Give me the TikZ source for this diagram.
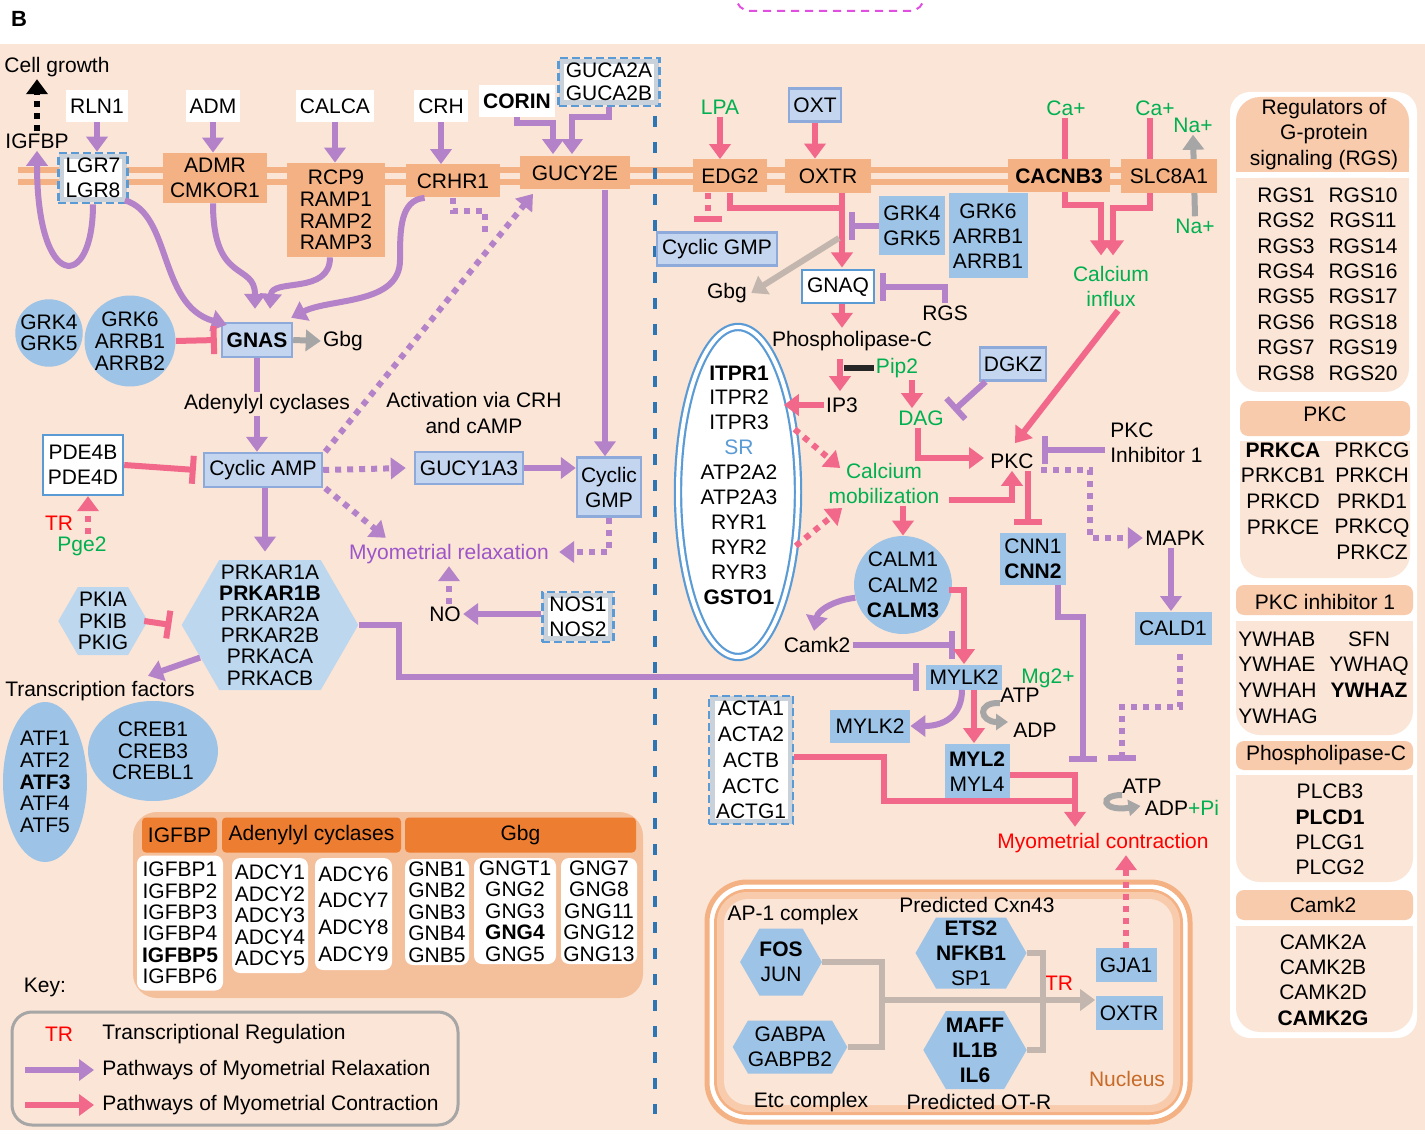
\documentclass[tikz,border=0pt]{standalone}
\usepackage{fontspec}
\setmainfont{Liberation Sans}
\usepackage{tikz}
\usetikzlibrary{fit, arrows.meta, shapes, positioning, calc}

\definecolor{bgpeach}{HTML}{FBE5D6}
\definecolor{orbox}{HTML}{F4B183}
\definecolor{orhead}{HTML}{ED7D31}
\definecolor{orlight}{HTML}{F8CBAD}
\definecolor{orlegend}{HTML}{F4BF9B}
\definecolor{bluefill}{HTML}{9DC3E6}
\definecolor{hexblue}{HTML}{BDD7EE}
\definecolor{glowfill}{HTML}{C3D5EF}
\definecolor{glowedge}{HTML}{8EAADB}
\definecolor{dashblue}{HTML}{5B9BD5}
\definecolor{lineblue}{HTML}{2E75B6}
\definecolor{framegray}{HTML}{C9D1DB}
\definecolor{purp}{HTML}{B482C8}
\definecolor{pinkc}{HTML}{F2688A}
\definecolor{grn}{HTML}{00B050}
\definecolor{redt}{HTML}{FF0000}
\definecolor{relaxtxt}{HTML}{9C56C9}
\definecolor{grayarr}{HTML}{A6A6A6}
\definecolor{graycon}{HTML}{C2B6AE}
\definecolor{nucor}{HTML}{C86A28}
\definecolor{magd}{HTML}{E04FE0}
\definecolor{keygray}{HTML}{A6A6A6}
\definecolor{darkbar}{HTML}{262626}

\newcommand{\genefont}{\fontsize{10.5}{12.5}\selectfont}
\newcommand{\tightfont}{\fontsize{10.5}{10.7}\selectfont}

\tikzset{
  lbl/.style={font=\genefont, align=center, inner sep=1pt},
  orb/.style={lbl, fill=orbox, inner xsep=3pt, inner ysep=1pt},
  blu/.style={lbl, fill=bluefill, inner xsep=2pt, inner ysep=1pt},
  glow/.style={lbl, fill=glowfill, draw=glowedge, line width=1.2pt, inner xsep=2pt, inner ysep=1pt},
  wht/.style={lbl, fill=white, inner xsep=2pt, inner ysep=2pt, minimum height=16pt},
  frm/.style={lbl, fill=white, draw=framegray, line width=2.5pt, inner xsep=2pt, inner ysep=1pt},
  dashfrm/.style={draw=dashblue, line width=1.3pt, dash pattern=on 4pt off 2pt, inner sep=0.3pt},
  hexa/.style={lbl, shape=signal, signal to=west and east, signal pointer angle=120, fill=bluefill, inner sep=0pt},
  genecell/.style={lbl, fill=white, rounded corners=4pt, font=\tightfont},
  hdcell/.style={lbl, fill=orhead, rounded corners=2pt, minimum height=17.5pt},
  relaxl/.style={draw=purp, line width=3pt},
  contrl/.style={draw=pinkc, line width=3pt},
  greyl/.style={draw=grayarr, line width=3pt},
  gcon/.style={draw=graycon, line width=3pt},
  arrowhd/.style={-{Triangle[length=7.5pt,width=10.5pt]}},
  inh/.style={-{Bar[width=14pt]}},
  dots/.style={dash pattern=on 3pt off 3pt},
}

\begin{document}
\begin{tikzpicture}[x=0.5pt, y=-0.5pt]
\useasboundingbox (0,0) rectangle (1425,1134);
\fill[bgpeach] (0,44) rectangle (1425,1130);
\draw[magd, line width=1pt, dash pattern=on 4pt off 3pt, rounded corners=7pt] (736,-10) -- (736,11) -- (924,11) -- (924,-10);
\node[lbl, font=\bfseries\fontsize{11}{13}\selectfont] (panelb) at (19,19) {B};

\draw[orbox, line width=2.7pt] (18,170) -- (1215,170);
\draw[orbox, line width=2.7pt] (18,182) -- (1215,182);
\draw[lineblue, line width=1.7pt, dash pattern=on 5.5pt off 7.5pt] (655,116) -- (655,1114);

% legend of gene families
\fill[orlegend, rounded corners=12pt] (133,812) rectangle (643,998);
\node[hdcell, minimum width=37.5pt] (hdigf) at (179.5,835) {IGFBP};
\node[hdcell, minimum width=89.5pt] (hdadcy) at (311.5,835) {Adenylyl cyclases};
\node[hdcell, minimum width=115.5pt] (hdgbg) at (520.5,835) {Gbg};
\node[genecell, minimum width=43pt, minimum height=67.5pt] (igfcell) at (180,923) {IGFBP1\\IGFBP2\\IGFBP3\\IGFBP4\\\textbf{IGFBP5}\\IGFBP6};
\node[genecell, minimum width=38pt, minimum height=57.5pt] (adcya) at (270,915.5) {ADCY1\\ADCY2\\ADCY3\\ADCY4\\ADCY5};
\node[genecell, minimum width=38.5pt, minimum height=56pt, font=\fontsize{10.5}{13.3}\selectfont] (adcyb) at (353.5,914) {ADCY6\\ADCY7\\ADCY8\\ADCY9};
\node[genecell, minimum width=32pt, minimum height=53pt] (gnbcell) at (437,912) {GNB1\\GNB2\\GNB3\\GNB4\\GNB5};
\node[genecell, minimum width=41pt, minimum height=53pt] (gngcell) at (515,911) {GNGT1\\GNG2\\GNG3\\\textbf{GNG4}\\GNG5};
\node[genecell, minimum width=38pt, minimum height=53pt] (gngbcell) at (599,911) {GNG7\\GNG8\\GNG11\\GNG12\\GNG13};

% key
\node[lbl] (keyl) at (45,987) {Key:};
\draw[keygray, line width=1.5pt, rounded corners=10pt] (12,1012) rectangle (458,1125);
\node[lbl, text=redt] (keytr) at (59,1034) {TR};
\node[lbl, anchor=west] (keytrt) at (100,1034) {Transcriptional Regulation};
\node[lbl, anchor=west] (keyrel) at (100,1070) {Pathways of Myometrial Relaxation};
\node[lbl, anchor=west] (keycon) at (100,1105) {Pathways of Myometrial Contraction};
\coordinate (keyrels) at (25,1070);
\coordinate (keycons) at (25,1105);
\draw[relaxl, arrowhd] (keyrels) -- ($(keyrel.west)+(-6,0)$);
\draw[contrl, arrowhd] (keycons) -- ($(keycon.west)+(-6,0)$);

% nucleus
\draw[orbox, line width=2.5pt, fill=white, rounded corners=20pt] (707,882) rectangle (1190,1122);
\fill[orbox, rounded corners=17pt] (714,889) rectangle (1183,1115);
\fill[orlight, rounded corners=15pt] (717,892) rectangle (1180,1112);
\fill[bgpeach, rounded corners=12pt] (724,899) rectangle (1173,1105);

% regulator tables
\fill[white, rounded corners=10pt] (1230,92) rectangle (1417,1038);
\fill[orlight, rounded corners=12pt] (1236,97) rectangle (1409,172);
\fill[orlight] (1236,140) rectangle (1409,172);
\fill[bgpeach, rounded corners=12pt] (1236,178) rectangle (1409,392);
\fill[bgpeach] (1236,178) rectangle (1409,230);
\fill[orlight, rounded corners=4pt] (1240,401) rectangle (1410,436);
\fill[bgpeach, rounded corners=12pt] (1240,441) rectangle (1410,578);
\fill[bgpeach] (1240,441) rectangle (1410,490);
\fill[orlight, rounded corners=4pt] (1236,585) rectangle (1413,615);
\fill[bgpeach, rounded corners=12pt] (1236,621) rectangle (1413,735);
\fill[bgpeach] (1236,621) rectangle (1413,670);
\fill[orlight, rounded corners=4pt] (1236,741) rectangle (1413,770);
\fill[bgpeach, rounded corners=12pt] (1236,775) rectangle (1413,882);
\fill[bgpeach] (1236,775) rectangle (1413,820);
\fill[orlight, rounded corners=4pt] (1236,890) rectangle (1413,920);
\fill[bgpeach, rounded corners=12pt] (1236,926) rectangle (1413,1032);
\fill[bgpeach] (1236,926) rectangle (1413,970);

\node[lbl, font=\fontsize{10.5}{12.75}\selectfont] (rgshd) at (1324,134.5) {Regulators of\\G-protein\\signaling (RGS)};
\node[lbl, font=\fontsize{10.5}{12.7}\selectfont] (rgsa) at (1286,284) {RGS1\\RGS2\\RGS3\\RGS4\\RGS5\\RGS6\\RGS7\\RGS8};
\node[lbl, font=\fontsize{10.5}{12.7}\selectfont] (rgsb) at (1363,284) {RGS10\\RGS11\\RGS14\\RGS16\\RGS17\\RGS18\\RGS19\\RGS20};
\node[lbl] (pkchd) at (1325,414) {PKC};
\node[lbl, font=\fontsize{10.5}{12.8}\selectfont] (pkcla) at (1283,488.5) {\textbf{PRKCA}\\PRKCB1\\PRKCD\\PRKCE};
\node[lbl, font=\fontsize{10.5}{12.8}\selectfont] (pkclb) at (1372,501) {PRKCG\\PRKCH\\PRKD1\\PRKCQ\\PRKCZ};
\node[lbl] (pkcihd) at (1325,602) {PKC inhibitor 1};
\node[lbl, anchor=west, align=left, font=\fontsize{10.5}{12.85}\selectfont] (ywa) at (1236,677.5) {YWHAB\\YWHAE\\YWHAH\\YWHAG};
\node[lbl, font=\fontsize{10.5}{12.85}\selectfont] (ywb) at (1369,664.5) {SFN\\YWHAQ\\\textbf{YWHAZ}};
\node[lbl] (plchd) at (1326,755) {Phospholipase-C};
\node[lbl, font=\fontsize{10.5}{12.6}\selectfont] (plcl) at (1330,829.5) {PLCB3\\\textbf{PLCD1}\\PLCG1\\PLCG2};
\node[lbl] (camkhd) at (1323,905) {Camk2};
\node[lbl, font=\fontsize{10.5}{12.7}\selectfont] (camkl) at (1323,980) {CAMK2A\\CAMK2B\\CAMK2D\\\textbf{CAMK2G}};

% left side: relaxation
\node[lbl] (cellg) at (57,67) {Cell growth};
\node[lbl] (igfbp) at (37,141) {IGFBP};
\node[wht] (rln) at (97,106) {RLN1};
\node[wht] (adm) at (213,106) {ADM};
\node[wht] (calca) at (335,106) {CALCA};
\node[wht] (crh) at (441,106) {CRH};
\node[wht, font=\bfseries\genefont] (corin) at (517,101) {CORIN};
\node[frm, font=\fontsize{10.5}{11.5}\selectfont] (guca) at (609,82) {GUCA2A\\GUCA2B};
\node[dashfrm, fit=(guca)] (gucaf) {};
\node[frm] (lgr) at (93,178) {LGR7\\LGR8};
\node[dashfrm, fit=(lgr)] (lgrf) {};
\node[orb, minimum width=52pt, minimum height=25pt] (admr) at (215,178) {ADMR\\CMKOR1};
\node[orb, minimum width=49pt, minimum height=47pt, font=\fontsize{10.5}{10.8}\selectfont] (rcp) at (336,210) {RCP9\\RAMP1\\RAMP2\\RAMP3};
\node[orb, minimum width=47pt, minimum height=16.5pt] (crhr) at (453,181) {CRHR1};
\node[orb, minimum width=55pt, minimum height=16.5pt] (gucy2e) at (575,173) {GUCY2E};

\node[glow, font=\bfseries\genefont, minimum width=35pt, minimum height=17pt] (gnas) at (257,340) {GNAS};
\node[lbl] (gbgl) at (343,341) {Gbg};
\node[lbl, circle, fill=bluefill, minimum size=32pt, inner sep=0pt, font=\tightfont] (grk45l) at (49,333) {GRK4\\GRK5};
\node[lbl, circle, fill=bluefill, minimum size=43pt, inner sep=0pt, font=\fontsize{10.5}{11}\selectfont] (grk6l) at (130,341) {GRK6\\ARRB1\\ARRB2};
\node[lbl, fill=white, draw=dashblue, line width=1.2pt, minimum width=40pt, minimum height=30pt] (pde) at (83,465) {PDE4B\\PDE4D};
\node[lbl, text=redt] (trl) at (59,523) {TR};
\node[lbl, text=grn] (pge2) at (82,546) {Pge2};
\node[glow, minimum width=59pt, minimum height=17pt] (camp) at (263,470) {Cyclic AMP};
\node[lbl, font=\fontsize{10.5}{13}\selectfont] (actv) at (474,413) {Activation via CRH\\and cAMP};
\node[glow, minimum width=54pt, minimum height=16pt] (gucy1) at (469,468) {GUCY1A3};
\node[glow, minimum width=32pt, minimum height=29.5pt] (cgmpl) at (609,487) {Cyclic\\GMP};
\node[lbl, text=relaxtxt] (myorel) at (449,554) {Myometrial relaxation};
\node[lbl] (no) at (445,614) {NO};
\node[frm] (nos) at (578,617) {NOS1\\NOS2};
\node[dashfrm, fit=(nos)] (nosf) {};
\node[hexa, fill=hexblue, minimum width=80pt, minimum height=65pt, font=\fontsize{10.5}{10.6}\selectfont] (prkar) at (270,625) {PRKAR1A\\\textbf{PRKAR1B}\\PRKAR2A\\PRKAR2B\\PRKACA\\PRKACB};
\node[hexa, fill=hexblue, minimum width=39pt, minimum height=34pt, font=\tightfont] (pki) at (103,621) {PKIA\\PKIB\\PKIG};
\node[lbl] (tf) at (100,691) {Transcription factors};
\node[lbl, ellipse, fill=bluefill, minimum width=42pt, minimum height=80pt, inner sep=0pt, font=\fontsize{10.5}{10.9}\selectfont] (atf) at (45,782) {ATF1\\ATF2\\\textbf{ATF3}\\ATF4\\ATF5};
\node[lbl, ellipse, fill=bluefill, minimum width=65pt, minimum height=50pt, inner sep=0pt, font=\tightfont] (creb) at (153,751) {CREB1\\CREB3\\CREBL1};

% right side: contraction
\node[lbl, text=grn] (lpa) at (720,107) {LPA};
\node[glow, minimum width=26pt, minimum height=16.5pt] (oxt) at (815,105) {OXT};
\node[orb, minimum width=37pt, minimum height=16.5pt] (edg2) at (730,176) {EDG2};
\node[orb, minimum width=43pt, minimum height=17pt] (oxtr) at (828,176) {OXTR};
\node[lbl, text=grn] (ca1) at (1066,108) {Ca+};
\node[lbl, text=grn] (ca2) at (1155,108) {Ca+};
\node[lbl, text=grn] (na1) at (1193,125) {Na+};
\node[lbl, text=grn] (na2) at (1195,226) {Na+};
\node[lbl, text=grn] (calinf) at (1111,286) {Calcium\\influx};
\draw[contrl, arrowhd] ($(ca1.south)+(-1,0)$) -- ++(0,87) -| ($(calinf.north)+(-10,-8)$);
\draw[contrl, arrowhd] ($(ca2.south)+(-5,0)$) -- ++(0,90) -| ($(calinf.north)+(2,-8)$);
\draw[greyl, arrowhd] (na2.north) -- (na1.south);
\node[orb, minimum width=51pt, minimum height=16.5pt, font=\bfseries\genefont] (cacnb) at (1059,176) {CACNB3};
\node[orb, minimum width=48pt, minimum height=17pt] (slc) at (1169,176) {SLC8A1};
\node[glow, minimum width=60pt, minimum height=16.5pt] (cgmpr) at (717,249) {Cyclic GMP};
\node[blu, minimum width=33pt, minimum height=29.5pt] (grk45r) at (912,226) {GRK4\\GRK5};
\node[blu, minimum width=39.5pt, minimum height=42.5pt] (grk6r) at (988,236) {GRK6\\ARRB1\\ARRB1};
\node[lbl] (gbgr) at (727,293) {Gbg};
\node[lbl, fill=white, draw=dashblue, line width=1pt, minimum width=36pt, minimum height=16.5pt] (gnaq) at (838,287) {GNAQ};
\node[lbl] (rgs) at (945,313) {RGS};
\node[lbl] (plc) at (852,341) {Phospholipase-C};
\node[lbl, text=grn] (pip2) at (897,368) {Pip2};
\node[lbl] (ip3) at (842,405) {IP3};
\node[lbl, text=grn] (dag) at (921,418) {DAG};
\node[glow, minimum width=33pt, minimum height=16.5pt] (dgkz) at (1013,364) {DGKZ};
\node[lbl] (pkc) at (1012,461) {PKC};
\node[lbl, anchor=west, align=left] (pkcinh) at (1108,443) {PKC\\Inhibitor 1};
\node[ellipse, draw=dashblue, line width=1.1pt, double=white, double distance=2pt, fill=white, minimum width=60pt, minimum height=165pt] (itpr) at (738,492) {};
\node[lbl, font=\fontsize{10.5}{12.45}\selectfont] (itprl) at (739,485) {\textbf{ITPR1}\\ITPR2\\ITPR3\\\textcolor{dashblue}{SR}\\ATP2A2\\ATP2A3\\RYR1\\RYR2\\RYR3\\\textbf{GSTO1}};
\node[lbl, text=grn] (calmob) at (884,483) {Calcium\\mobilization};
\node[lbl, circle, fill=bluefill, minimum size=48pt, inner sep=0pt, font=\fontsize{10.5}{12.8}\selectfont] (calm) at (903,585) {CALM1\\CALM2\\\textbf{CALM3}};
\node[lbl] (camk2) at (817,645) {Camk2};
\node[blu, minimum width=36pt, minimum height=12.5pt, inner ysep=0pt] (mylk2) at (964,677) {MYLK2};
\node[lbl, text=grn] (mg) at (1048,678) {Mg2+};
\node[lbl] (atp1) at (1020,695) {ATP};
\node[lbl] (adp1) at (1035,730) {ADP};
\node[blu, minimum width=40pt, minimum height=16.5pt] (mylk2b) at (870,726) {MYLK2};
\node[blu, minimum width=32.5pt, minimum height=28.5pt] (myl) at (977,772) {\textbf{MYL2}\\MYL4};
\node[frm, font=\fontsize{10.5}{12.9}\selectfont] (acta) at (751,760) {ACTA1\\ACTA2\\ACTB\\ACTC\\ACTG1};
\node[dashfrm, fit=(acta)] (actaf) {};
\node[lbl, text=redt] (myocon) at (1103,843) {Myometrial contraction};
\node[lbl] (atp2) at (1142,786) {ATP};
\node[lbl] (adp2) at (1182,808) {ADP\textcolor{grn}{+Pi}};
\node[blu, minimum width=29.5pt, minimum height=26pt] (cnn) at (1033,559) {CNN1\\\textbf{CNN2}};
\node[lbl] (mapk) at (1175,538) {MAPK};
\node[blu, minimum width=38.5pt, minimum height=16.5pt] (cald) at (1173,628) {CALD1};

% nucleus contents
\node[lbl] (ap1) at (793,915) {AP-1 complex};
\node[hexa, minimum width=39pt, minimum height=33.5pt] (fos) at (781,962) {\textbf{FOS}\\JUN};
\node[hexa, minimum width=48.5pt, minimum height=26.5pt] (gabp) at (790,1047) {GABPA\\GABPB2};
\node[lbl] (etc) at (811,1102) {Etc complex};
\node[lbl] (cxn) at (977,905) {Predicted Cxn43};
\node[hexa, minimum width=42.5pt, minimum height=35.5pt] (ets) at (971,953) {\textbf{ETS2}\\\textbf{NFKB1}\\SP1};
\node[hexa, minimum width=43.5pt, minimum height=39pt] (maff) at (975,1050) {\textbf{MAFF}\\\textbf{IL1B}\\\textbf{IL6}};
\node[lbl] (otr) at (979,1102) {Predicted OT-R};
\node[lbl, text=redt] (trn) at (1059,983) {TR};
\node[blu, minimum width=30.5pt, minimum height=17pt] (gja1) at (1126,965) {GJA1};
\node[blu, minimum width=33.5pt, minimum height=17pt] (oxtrn) at (1129,1013) {OXTR};
\node[lbl, text=nucor] (nuc) at (1127,1079) {Nucleus};
\coordinate (apjoin) at (882,1000);
\coordinate (otjoin) at (1043,1000);

% relaxation connectors
\draw[black, line width=3pt, dots, arrowhd] (igfbp.north) -- (igfbp.north |- cellg.south);
\draw[relaxl, arrowhd] (rln.south) -- (rln.south |- lgrf.north);
\draw[relaxl, arrowhd] (adm.south) -- (adm.south |- admr.north);
\draw[relaxl, arrowhd] (calca.south) -- (calca.south |- rcp.north);
\draw[relaxl, arrowhd] (crh.south) -- (crh.south |- crhr.north);
\draw[relaxl, arrowhd] (corin.south) -- ++(0,6) -| ($(gucy2e.north)+(-22,-2)$);
\draw[relaxl, arrowhd] (gucaf.south) -- ++(0,10) -| ($(gucy2e.north)+(-3,-2)$);
\draw[relaxl, arrowhd] (lgrf.south) .. controls (93,292) and (37,292) .. (igfbp.south);
\draw[relaxl, arrowhd] ($(lgrf.south east)+(-4,-4)$) .. controls (172,214) and (158,305) .. ($(gnas.north west)+(6,3)$);
\draw[relaxl, arrowhd] ($(admr.south)+(-2,0)$) .. controls (213,285) and (255,262) .. ($(gnas.north)+(-2,-13)$);
\draw[relaxl, arrowhd] ($(rcp.south)+(-6,0)$) .. controls (330,295) and (272,278) .. ($(gnas.north)+(13,-13)$);
\draw[relaxl, arrowhd] ($(crhr.south west)+(19,0)$) .. controls (400,200) and (400,230) .. (400,260) .. controls (400,305) and (330,298) .. ($(gnas.north east)+(-2,-4)$);
\draw[relaxl, dots] (crhr.south) -- ++(0,13) -| ++(32,22);
\draw[relaxl, dots, arrowhd] ($(camp.north east)+(2,0)$) -- ($(gucy2e.south)+(-42,4)$);
\draw[relaxl, arrowhd] ($(gucy2e.south)+(30,0)$) -- ($(gucy2e.south |- cgmpl.north)+(30,0)$);
\draw[greyl, arrowhd] (gnas.east) -- (gbgl.west);
\draw[contrl, inh] (grk6l.east) -- ($(gnas.west)+(-4,0)$);
\draw[relaxl, arrowhd] (gnas.south) -- (gnas.south |- camp.north);
\node[lbl, fill=bgpeach] (adcyl) at (267,404) {Adenylyl cyclases};
\draw[contrl, inh] (pde.east) -- ($(camp.west)+(-7,0)$);
\draw[contrl, dots, arrowhd] ($(pge2.north)+(6,0)$) -- ($(pge2.north |- pde.south)+(6,0)$);
\draw[relaxl, dots, arrowhd] (camp.east) -- ($(gucy1.west)+(-8,0)$);
\draw[relaxl, dots, arrowhd] ($(camp.south east)+(2,0)$) -- ($(myorel.north west)+(39,-4)$);
\draw[relaxl, arrowhd] ($(camp.south)+(2,0)$) -- ($(camp.south |- prkar.north)+(2,-8)$);
\draw[relaxl, arrowhd] (gucy1.east) -- (gucy1.east -| cgmpl.west);
\draw[relaxl, dots, arrowhd] (cgmpl.south) |- ($(myorel.east)+(8,-2)$);
\draw[relaxl, dots, arrowhd] (no.north -| myorel.south) -- (myorel.south);
\draw[relaxl, arrowhd] (nosf.west |- no) -- (no.east);
\draw[contrl, inh] ($(pki.east)+(-4,0)$) -- ($(prkar.west)+(-10,0)$);
\draw[relaxl, arrowhd] (prkar.205) -- ($(tf.north)+(48,-3)$);
\draw[relaxl, inh] (prkar.east) -- ++(40,0) |- ($(mylk2.west)+(-6,0)$);

% contraction connectors
\coordinate (oxjoin) at (842,208);
\draw[contrl, arrowhd] (lpa.south) -- (lpa.south |- edg2.north);
\draw[contrl, arrowhd] (oxt.south) -- (oxt.south |- oxtr.north);
\draw[contrl, dots, inh] ($(edg2.south)+(-22,0)$) -- ($(edg2.south |- cgmpr.north)+(-22,-9)$);
\draw[contrl] (edg2.south) |- (oxjoin);
\draw[contrl, arrowhd] (oxtr.south -| oxjoin) -- ($(gnaq.north -| oxjoin)+(0,-2)$);
\draw[relaxl, inh] (grk45r.west) -- ++(-30,0);
\draw[gcon, arrowhd] ($(oxjoin)+(-3,30)$) -- ($(gbgr.east)+(2,0)$);
\draw[relaxl, inh] (rgs.north) |- ($(gnaq.east)+(5,0)$);
\draw[contrl, arrowhd] (gnaq.south -| oxjoin) -- ($(plc.north -| oxjoin)+(0,-1)$);
\draw[contrl, arrowhd] ($(plc.south -| oxjoin)+(-2,6)$) -- ($(ip3.north -| oxjoin)+(-2,-4)$);
\draw[darkbar, line width=3pt] ($(oxjoin |- pip2.west)+(2,0)$) -- (pip2.west);
\draw[contrl, arrowhd] ($(pip2.south)+(15,0)$) -- ($(pip2.south |- dag.north)+(15,0)$);
\draw[contrl, arrowhd] ($(dag.south)+(-3,0)$) |- ($(pkc.west)+(-4,-3)$);
\draw[relaxl, inh] ($(dgkz.south west)+(7,0)$) -- ($(dgkz.south west)+(-25,29)$);
\draw[contrl, arrowhd] (ip3.west) -- ($(ip3.west)+(-40,0)$);
\draw[contrl, dots, arrowhd] (itpr.48) -- ($(calmob.west)+(14,-15)$);
\draw[contrl, dots, arrowhd] (itpr.-43) -- ($(calmob.west)+(16,25)$);
\draw[contrl, arrowhd] ($(calmob.east)+(7,17)$) -| (pkc.south);
\draw[contrl, arrowhd] (calm.north |- calmob.south) -- (calm.north);
\draw[relaxl, arrowhd] (calm.195) .. controls (835,600) and (818,610) .. ($(camk2.north)+(-3,-4)$);
\draw[relaxl, inh] (camk2.east) -- ($(camk2.east -| mylk2.north)+(-9,0)$);
\draw[contrl, arrowhd] ($(calm.east)+(-3,5)$) -| (mylk2.north);
\draw[relaxl, arrowhd] ($(mylk2.south)+(-2,0)$) .. controls (962,715) and (945,726) .. (mylk2b.east);
\draw[contrl, arrowhd] ($(mylk2.south)+(10,0)$) -- ($(mylk2.south |- myl.north)+(10,0)$);
\draw[greyl, -{Triangle[length=6pt,width=8pt]}] ($(atp1.west)+(2,8)$) .. controls (976,702) and (980,722) .. ($(adp1.west)+(-3,-8)$);
\draw[greyl, -{Triangle[length=6pt,width=8pt]}] ($(atp2.west)+(2,9)$) .. controls (1098,795) and (1102,812) .. ($(adp2.west)+(-2,-2)$);
\draw[contrl, arrowhd] ($(myl.east)+(0,3)$) -| ($(myocon.north)+(-28,-4)$);
\draw[contrl] ($(actaf.east)+(0,-3)$) -- ++(90,0) |- ($(myocon.north)+(-28,-30)$);
\draw[contrl, inh] ($(pkc.south)+(16,0)$) -- ($(pkc.south |- cnn.north)+(16,-8)$);
\draw[relaxl, inh] ($(pkcinh.west)+(-3,7)$) -- ($(pkc.east |- pkcinh.west)+(6,7)$);
\draw[relaxl, dots, arrowhd] ($(pkc.east)+(5,9)$) -| ($(mapk.west)+(-53,0)$) -- (mapk.west);
\draw[relaxl, arrowhd] ($(mapk.south)+(-4,0)$) -- ($(mapk.south |- cald.north)+(-4,0)$);
\draw[relaxl, dots, inh] ($(cald.south)+(7,9)$) -- ++(0,53) -- ++(-58,0) -- ++(0,54);
\draw[relaxl, inh] ($(cnn.south)+(25,0)$) -- ++(0,32) -- ++(25,0) -- ++(0,145);
\draw[contrl, arrowhd] ($(calinf.south)+(7,2)$) -- ($(pkc.north)+(3,-8)$);
\draw[contrl, dots, arrowhd] (gja1.north) -- (gja1.north |- myocon.south);

% nucleus connectors
\draw[gcon] (fos.east) -| (apjoin);
\draw[gcon] (gabp.east) -| (apjoin);
\draw[gcon] (ets.east) -| (otjoin);
\draw[gcon] (maff.east) -| (otjoin);
\draw[gcon, arrowhd] (apjoin) -- (apjoin -| oxtrn.west);
\end{tikzpicture}
\end{document}
